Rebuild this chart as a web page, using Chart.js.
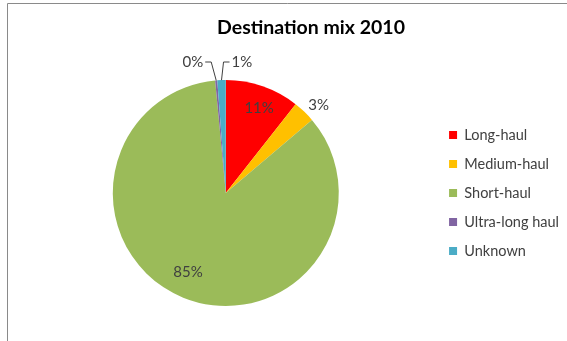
<!DOCTYPE html>
<html>
<head>
<meta charset="utf-8">
<script src="https://cdn.jsdelivr.net/npm/chart.js@4/dist/chart.umd.min.js"></script>
<style>
  html, body { margin: 0; padding: 0; background: #ffffff; }
  #wrap { position: relative; width: 567px; height: 341px; }
</style>
</head>
<body>
<div id="wrap"><canvas id="c"></canvas></div>
<script>
const chartTitle = 'Destination mix 2010';
const categories = ['Long-haul', 'Medium-haul', 'Short-haul', 'Ultra-long haul', 'Unknown'];
const shareValues = [10.6, 3.2, 84.7, 0.3, 1.2];
const sliceColors = ['#FF0000', '#FFC000', '#9BBB59', '#8064A2', '#4BACC6'];

const FONT = 'Lato, "Open Sans", "DejaVu Sans", sans-serif';
const TEXT = '#404040';

const framePlugin = {
  id: 'frame',
  beforeDraw(chart) {
    const ctx = chart.ctx;
    ctx.save();
    ctx.fillStyle = '#ffffff';
    ctx.fillRect(0, 0, chart.width, chart.height);
    ctx.strokeStyle = '#8a8a8a';
    ctx.lineWidth = 1;
    ctx.beginPath();
    ctx.moveTo(7.5, chart.height);
    ctx.lineTo(7.5, 3.5);
    ctx.lineTo(chart.width, 3.5);
    ctx.stroke();
    ctx.font = 'bold 19.5px ' + FONT;
    ctx.fillStyle = '#000000';
    ctx.textAlign = 'center';
    ctx.textBaseline = 'middle';
    ctx.fillText(chartTitle, 311, 28);
    ctx.restore();
  }
};

const labelPlugin = {
  id: 'sliceLabels',
  afterDatasetsDraw(chart, args, opts) {
    const ctx = chart.ctx;
    const meta = chart.getDatasetMeta(0);
    const data = chart.data.datasets[0].data;
    const total = data.reduce((a, b) => a + b, 0);
    ctx.save();
    ctx.font = '15px ' + FONT;
    ctx.fillStyle = TEXT;
    ctx.strokeStyle = '#404040';
    ctx.lineWidth = 1;
    meta.data.forEach((arc, i) => {
      const p = arc.getProps(['x', 'y', 'startAngle', 'endAngle', 'outerRadius'], true);
      const mid = (p.startAngle + p.endAngle) / 2;
      const dx = Math.cos(mid), dy = Math.sin(mid);
      const txt = Math.round(data[i] / total * 100) + '%';
      const mode = opts.modes[i];
      if (mode === 'inside') {
        const r = p.outerRadius * 0.78;
        ctx.textAlign = 'center';
        ctx.textBaseline = 'middle';
        ctx.fillText(txt, p.x + dx * r + 4.5 * Math.sign(dx), p.y + dy * r - 2);
      } else if (mode === 'outside') {
        const r = p.outerRadius + 6;
        ctx.textAlign = dx >= 0 ? 'left' : 'right';
        ctx.textBaseline = 'middle';
        ctx.fillText(txt, p.x + dx * r, p.y + dy * r - 2);
      } else {
        const side = mode === 'leftLeader' ? -1 : 1;
        const ex = p.x + dx * p.outerRadius, ey = p.y + dy * p.outerRadius;
        const ly = p.y - p.outerRadius - 18;
        const elbowX = ex + (side < 0 ? -5 : 2);
        const endX = elbowX + side * 6;
        ctx.beginPath();
        ctx.moveTo(ex, ey);
        ctx.lineTo(elbowX, ly);
        ctx.lineTo(endX, ly);
        ctx.stroke();
        ctx.textAlign = side < 0 ? 'right' : 'left';
        ctx.textBaseline = 'middle';
        ctx.fillText(txt, endX + side * 2, ly);
      }
    });
    ctx.restore();
  }
};

new Chart(document.getElementById('c'), {
  type: 'pie',
  data: {
    labels: categories,
    datasets: [{
      data: shareValues,
      backgroundColor: sliceColors,
      borderWidth: 0
    }]
  },
  options: {
    responsive: true,
    maintainAspectRatio: false,
    animation: false,
    layout: { padding: { left: 17, right: -2, top: 80, bottom: 35 } },
    plugins: {
      title: { display: false },
      legend: {
        position: 'right',
        labels: {
          boxWidth: 8,
          boxHeight: 8,
          padding: 14.5,
          color: TEXT,
          font: { family: FONT, size: 14.5 }
        }
      },
      tooltip: { enabled: false },
      sliceLabels: {
        modes: ['inside', 'outside', 'inside', 'leftLeader', 'rightLeader']
      }
    }
  },
  plugins: [framePlugin, labelPlugin]
});
</script>
</body>
</html>
